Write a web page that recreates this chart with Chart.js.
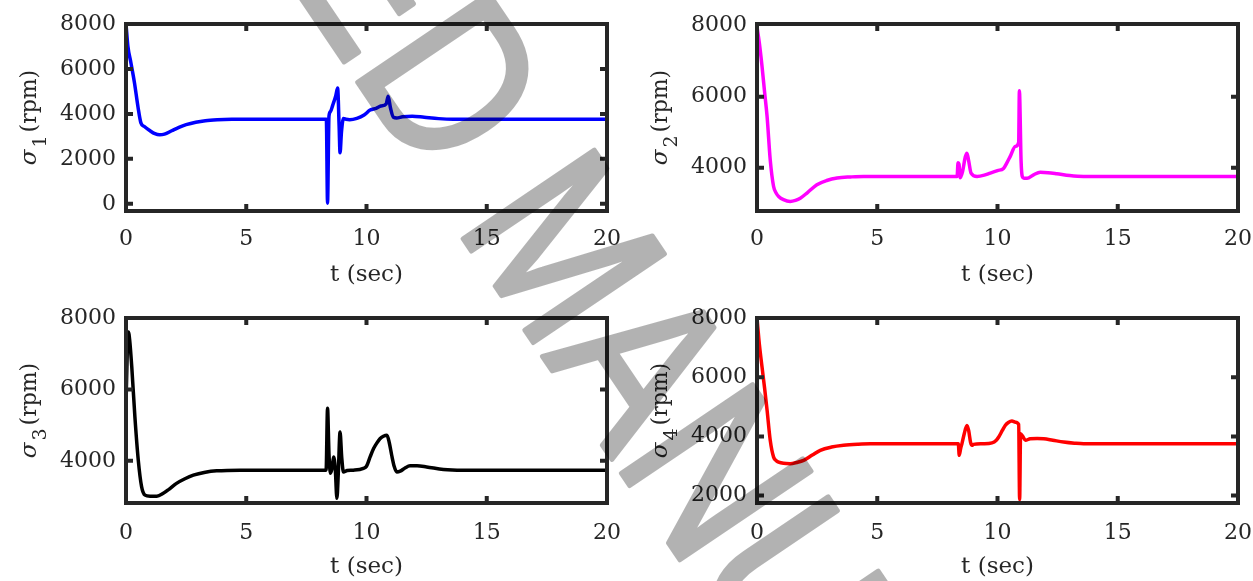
<!DOCTYPE html>
<html>
<head>
<meta charset="utf-8">
<title>Rotor speeds</title>
<script src="https://cdn.jsdelivr.net/npm/chart.js@4.4.1/dist/chart.umd.min.js"></script>
<style>
  html, body { margin: 0; padding: 0; background: #fff; }
  #wrap { position: relative; width: 1253px; height: 581px; overflow: hidden; }
  #wrap canvas { position: absolute; }
  #mark { pointer-events: none; opacity: 0.3; }
</style>
</head>
<body>
<div id="wrap">
  <canvas id="c1" width="626" height="290" style="left:0;top:0"></canvas>
  <canvas id="c2" width="627" height="290" style="left:626px;top:0"></canvas>
  <canvas id="c3" width="626" height="291" style="left:0;top:290px"></canvas>
  <canvas id="c4" width="627" height="291" style="left:626px;top:290px"></canvas>
  <canvas id="mark" width="1253" height="581" style="left:0;top:0"></canvas>
</div>
<script>
const timeTicks = [0, 5, 10, 15, 20];

// sigma_1, blue
const t1 = [0, 0.08, 0.2, 0.35, 0.5, 0.62, 0.75, 1.0, 1.2, 1.4, 1.6, 1.9, 2.2, 2.5, 2.9, 3.3, 3.8, 4.4, 5.5,
    8.33, 8.38, 8.44, 8.5, 8.6, 8.72, 8.8, 8.86, 8.9, 8.96, 9.04, 9.15, 9.3, 9.6, 9.9, 10.15, 10.4, 10.6, 10.82,
    10.9, 11.0, 11.12, 11.25, 11.5, 11.9, 12.4, 13.0, 13.6, 20];
const sigma1 = [8000, 7000, 6300, 5400, 4300, 3600, 3450, 3250, 3120, 3070, 3100, 3250, 3400, 3520, 3630, 3700, 3740, 3760, 3765,
    3765, 30, 3900, 4100, 4400, 4800, 5150, 3500, 2270, 3200, 3800, 3760, 3740, 3800, 3950, 4170, 4250, 4350, 4450,
    4780, 4250, 3850, 3820, 3870, 3900, 3850, 3790, 3765, 3765];
const yTicks1 = [0, 2000, 4000, 6000, 8000];

// sigma_2, magenta
const t2 = [0, 0.1, 0.21, 0.32, 0.42, 0.55, 0.69, 0.8, 0.9, 1.1, 1.38, 1.6, 1.8, 2.1, 2.49, 2.9, 3.33, 3.9, 4.43,
    8.32, 8.36, 8.4, 8.45, 8.55, 8.66, 8.73, 8.8, 8.9, 9.15, 9.45, 9.7, 10.0, 10.25, 10.4, 10.53, 10.74, 10.88,
    10.91, 10.98, 11.03, 11.1, 11.23, 11.5, 11.78, 12.1, 12.47, 13.0, 13.58, 20];
const sigma2 = [7970, 7500, 6850, 6100, 5440, 4220, 3470, 3280, 3190, 3100, 3050, 3080, 3140, 3300, 3520, 3640, 3710, 3740, 3755,
    3755, 4140, 4100, 3720, 3900, 4300, 4410, 4200, 3850, 3755, 3790, 3850, 3920, 3980, 4150, 4320, 4600, 4710,
    6170, 4200, 3750, 3700, 3700, 3800, 3870, 3860, 3830, 3780, 3755, 3755];
const yTicks2 = [4000, 6000, 8000];

// sigma_3, black
const t3 = [0, 0.05, 0.1, 0.15, 0.24, 0.37, 0.51, 0.65, 0.79, 1.0, 1.28, 1.55, 1.8, 2.1, 2.45, 2.8, 3.3, 3.77, 4.74,
    8.32, 8.38, 8.44, 8.5, 8.57, 8.63, 8.7, 8.77, 8.83, 8.9, 8.97, 9.04, 9.2, 9.45, 9.87, 10.0, 10.15, 10.3, 10.42,
    10.56, 10.7, 10.85, 10.95, 11.05, 11.15, 11.26, 11.4, 11.6, 11.81, 12.1, 12.5, 13.2, 14.0, 20];
const sigma3 = [5520, 7000, 7610, 7400, 6630, 5230, 4020, 3270, 3040, 3010, 3010, 3090, 3210, 3370, 3500, 3600, 3680, 3720, 3740,
    3740, 5470, 4200, 3650, 3800, 4110, 3800, 2950, 3700, 4810, 4100, 3690, 3730, 3740, 3790, 3850, 4110, 4350, 4490,
    4620, 4690, 4720, 4500, 4150, 3850, 3690, 3710, 3800, 3860, 3860, 3830, 3760, 3740, 3740];
const yTicks3 = [4000, 6000, 8000];

// sigma_4, red
const t4 = [0, 0.1, 0.21, 0.32, 0.42, 0.55, 0.69, 0.8, 0.9, 1.1, 1.38, 1.65, 1.94, 2.3, 2.63, 3.1, 3.6, 4.2, 4.71,
    8.37, 8.41, 8.47, 8.52, 8.62, 8.73, 8.8, 8.88, 8.94, 9.0, 9.4, 9.77, 9.95, 10.05, 10.2, 10.32, 10.45, 10.6, 10.75,
    10.88, 10.92, 10.96, 11.05, 11.16, 11.36, 11.65, 11.92, 12.3, 12.75, 13.2, 13.58, 20];
const sigma4 = [8000, 7100, 6340, 5600, 4880, 3870, 3300, 3180, 3130, 3090, 3080, 3120, 3190, 3370, 3530, 3640, 3700, 3735, 3750,
    3750, 3360, 3600, 3750, 4100, 4370, 4200, 3800, 3700, 3730, 3750, 3780, 3870, 3980, 4200, 4370, 4470, 4520, 4480,
    4400, 1870, 4090, 4000, 3870, 3920, 3930, 3920, 3870, 3810, 3770, 3750, 3750];
const yTicks4 = [2000, 4000, 6000, 8000];

const axisInk = '#262626';
const serif = "'DejaVu Serif', serif";

const matlabAxes = {
    id: 'matlabAxes',
    afterDatasetsDraw(chart, _args, opts) {
        const { ctx, chartArea: a, scales: { x, y } } = chart;
        ctx.save();
        ctx.strokeStyle = axisInk;
        ctx.lineWidth = 4;
        ctx.beginPath();
        x.ticks.forEach(({ value }) => {
            const px = x.getPixelForValue(value);
            if (px <= a.left + 2 || px >= a.right - 2) return;
            ctx.moveTo(px, a.bottom);
            ctx.lineTo(px, a.bottom - 7);
            ctx.moveTo(px, a.top);
            ctx.lineTo(px, a.top + 7);
        });
        y.ticks.forEach(({ value }) => {
            const py = y.getPixelForValue(value);
            if (py <= a.top + 2 || py >= a.bottom - 2) return;
            ctx.moveTo(a.left, py);
            ctx.lineTo(a.left + 7, py);
            ctx.moveTo(a.right, py);
            ctx.lineTo(a.right - 7, py);
        });
        ctx.stroke();
        ctx.strokeRect(a.left, a.top, a.right - a.left, a.bottom - a.top);

        // y title: sigma with subscript, then (rpm)
        ctx.fillStyle = axisInk;
        ctx.translate(a.left - 90, (a.top + a.bottom) / 2);
        ctx.rotate(-Math.PI / 2);
        ctx.textBaseline = 'alphabetic';
        const main = `22px ${serif}`;
        const italic = `italic 23px ${serif}`;
        const small = `19px ${serif}`;
        ctx.font = italic;
        const wSig = ctx.measureText('σ').width;
        ctx.font = small;
        const wSub = ctx.measureText(opts.sub).width;
        ctx.font = main;
        const wUnit = ctx.measureText('(rpm)').width;
        const total = wSig + 2 + wSub + 3 + wUnit;
        let cx = -total / 2;
        ctx.font = italic;
        ctx.fillText('σ', cx, 0);
        cx += wSig + 2;
        ctx.font = small;
        ctx.fillText(opts.sub, cx, 10);
        cx += wSub + 3;
        ctx.font = main;
        ctx.fillText('(rpm)', cx, 0);
        ctx.restore();
    },
};

const makePoints = (times, values) => times.map((t, i) => ({ x: t, y: values[i] }));

const createChart = (id, cfg) => {
    const canvas = document.getElementById(id);
    return new Chart(canvas.getContext('2d'), {
        type: 'line',
        data: {
            datasets: [{
                data: makePoints(cfg.times, cfg.values),
                borderColor: cfg.color,
                borderWidth: 3.5,
                pointRadius: 0,
                cubicInterpolationMode: 'monotone',
                fill: false,
            }],
        },
        options: {
            responsive: false,
            animation: false,
            events: [],
            layout: { padding: { top: cfg.top, right: cfg.right, left: 0, bottom: 0 } },
            plugins: {
                legend: { display: false },
                tooltip: { enabled: false },
                matlabAxes: { sub: cfg.sub },
            },
            scales: {
                x: {
                    type: 'linear',
                    min: 0,
                    max: 20,
                    afterBuildTicks: (s) => { s.ticks = timeTicks.map((v) => ({ value: v })); },
                    afterFit: (s) => {
                        s.height = cfg.xAxis;
                        s.paddingLeft = 0;
                        s.paddingRight = 0;
                    },
                    grid: { display: false, drawTicks: false },
                    border: { display: false },
                    ticks: {
                        color: axisInk,
                        font: { family: serif, size: 22 },
                        padding: cfg.tickPad,
                        autoSkip: false,
                        maxRotation: 0,
                        callback: (v) => String(v),
                    },
                    title: {
                        display: true,
                        text: 't (sec)',
                        color: axisInk,
                        font: { family: serif, size: 23 },
                        padding: { top: 0, bottom: cfg.titlePad },
                    },
                },
                y: {
                    type: 'linear',
                    min: cfg.yMin,
                    max: cfg.yMax,
                    afterBuildTicks: (s) => { s.ticks = cfg.yTicks.map((v) => ({ value: v })); },
                    afterFit: (s) => {
                        s.width = cfg.yAxis;
                        s.paddingTop = 0;
                        s.paddingBottom = 0;
                    },
                    grid: { display: false, drawTicks: false },
                    border: { display: false },
                    ticks: {
                        color: axisInk,
                        font: { family: serif, size: 22 },
                        padding: 10,
                        autoSkip: false,
                        callback: (v) => String(v),
                    },
                },
            },
        },
        plugins: [matlabAxes],
    });
};

const topRow = { top: 24, xAxis: 79, tickPad: 15, titlePad: 1 };
const bottomRow = { top: 28, xAxis: 78, tickPad: 17, titlePad: 0 };

createChart('c1', { ...topRow, times: t1, values: sigma1, color: '#0000ff', sub: '1', yMin: -320, yMax: 8000, yTicks: yTicks1, right: 19, yAxis: 126 });
createChart('c2', { ...topRow, times: t2, values: sigma2, color: '#ff00ff', sub: '2', yMin: 2780, yMax: 8050, yTicks: yTicks2, right: 15, yAxis: 131 });
createChart('c3', { ...bottomRow, times: t3, values: sigma3, color: '#000000', sub: '3', yMin: 2820, yMax: 8000, yTicks: yTicks3, right: 19, yAxis: 126 });
createChart('c4', { ...bottomRow, times: t4, values: sigma4, color: '#ff0000', sub: '4', yMin: 1750, yMax: 8000, yTicks: yTicks4, right: 15, yAxis: 131 });

// watermark laid over the whole figure (canvas opacity keeps the overlap even)
const mark = document.getElementById('mark').getContext('2d');
mark.font = "230px 'Liberation Sans', sans-serif";
mark.fillStyle = '#000';
mark.strokeStyle = '#000';
mark.lineWidth = 5;
mark.lineJoin = 'round';
const lead = mark.measureText('ACCEPTED ').width;
mark.translate(462, 237);
mark.rotate(56 * Math.PI / 180);
mark.scale(0.82, 1);
mark.fillText('ACCEPTED MANUSCRIPT', -lead - 17, 0);
mark.strokeText('ACCEPTED MANUSCRIPT', -lead - 17, 0);
</script>
</body>
</html>
